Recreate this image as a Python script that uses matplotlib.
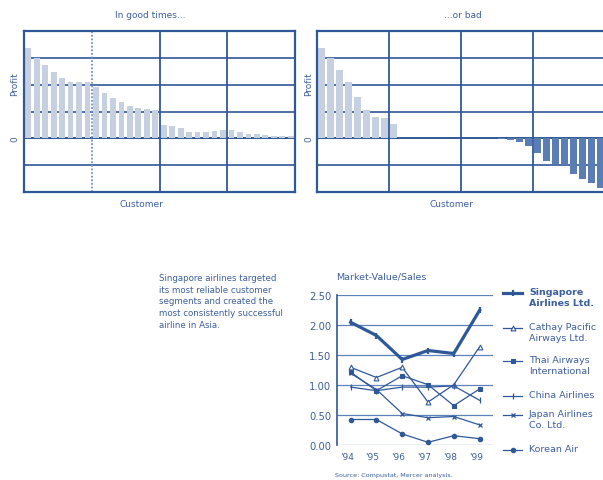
import matplotlib
matplotlib.use("Agg")
import matplotlib.pyplot as plt
from matplotlib.lines import Line2D

# ---------------- data ----------------
good_profit = [3.37, 3.0, 2.74, 2.48, 2.25, 2.09, 2.09, 2.09,
               1.9, 1.68, 1.52, 1.36, 1.2, 1.12, 1.1, 1.05,
               0.48, 0.45, 0.37, 0.24, 0.24, 0.24, 0.27, 0.3,
               0.31, 0.25, 0.18, 0.18, 0.11, 0.1, 0.09, 0.09]
bad_profit = [3.37, 3.0, 2.53, 2.1, 1.53, 1.05, 0.79, 0.74, 0.54,
              0.03, 0.03, 0.03, 0.03, 0.03, 0.03, 0.03, 0.03, 0.03, 0.03, 0.03,
              -0.03, -0.05, -0.15, -0.27, -0.54, -0.85, -0.95, -0.98,
              -1.32, -1.52, -1.67, -1.84]

years = ["'94", "'95", "'96", "'97", "'98", "'99"]
airlines = ["Singapore\nAirlines Ltd.", "Cathay Pacific\nAirways Ltd.",
            "Thai Airways\nInternational", "China Airlines",
            "Japan Airlines\nCo. Ltd.", "Korean Air"]
singapore = [2.04, 1.82, 1.42, 1.57, 1.52, 2.24]
cathay = [1.29, 1.12, 1.29, 0.71, 1.00, 1.63]
thai = [1.21, 0.90, 1.15, 1.00, 0.65, 0.93]
china = [0.96, 0.90, 0.96, 0.96, 0.98, 0.74]
japan = [1.19, 0.92, 0.52, 0.45, 0.47, 0.33]
korean = [0.42, 0.42, 0.18, 0.04, 0.15, 0.10]
series = [singapore, cathay, thai, china, japan, korean]
yticks_bottom = [0.0, 0.5, 1.0, 1.5, 2.0, 2.5]

# ---------------- style ----------------
W, H = 603, 481
TXT = "#3d5f9c"
GRID = "#2f5898"
LIGHT = "#c6d0e0"
DARK = "#5a7db5"
FONT = "DejaVu Sans"
plt.rcParams["font.family"] = [FONT]

fig = plt.figure(figsize=(W / 100, H / 100), dpi=100)
fig.patch.set_facecolor("white")


def fx(x):
    return x / W


def fy(y):
    return 1 - y / H


def rect(x0, y0, x1, y1):
    return [fx(x0), fy(y1), fx(x1) - fx(x0), fy(y0) - fy(y1)]


def profit_panel(px0, px1, values, dotted_first):
    ax = fig.add_axes(rect(px0, 32, px1, 193))
    n = len(values)
    ax.set_xlim(0, n)
    ax.set_ylim(-2, 4)
    for yv in [-1, 0, 1, 2, 3]:
        ax.axhline(yv, color=GRID, lw=1.4 if yv == 0 else 1.2, zorder=1)
    for i, xv in enumerate([n / 4, n / 2, 3 * n / 4]):
        if i == 0 and dotted_first:
            ax.axvline(xv, color="#6f8fc2", lw=1.3, ls=(0, (1, 1)), zorder=1)
        else:
            ax.axvline(xv, color=GRID, lw=1.3, zorder=1)
    xs = [i + 0.5 for i in range(n)]
    cols = [LIGHT if v >= 0 else DARK for v in values]
    ax.bar(xs, values, width=0.68, color=cols, zorder=2)
    ax.set_xticks([])
    ax.set_yticks([])
    for s in ax.spines.values():
        s.set_color(GRID)
        s.set_linewidth(1.6)
        s.set_zorder(5)
    return ax


profit_panel(24, 295, good_profit, True)
profit_panel(317, 605, bad_profit, False)

fs = 6.5
fig.text(fx(150), fy(15), "In good times...", color=TXT, fontsize=fs, ha="center", va="center")
fig.text(fx(463), fy(15), "...or bad", color=TXT, fontsize=fs, ha="center", va="center")
fig.text(fx(141), fy(205), "Customer", color=TXT, fontsize=fs, ha="center", va="center")
fig.text(fx(451), fy(205), "Customer", color=TXT, fontsize=fs, ha="center", va="center")
for xoff in [15, 309]:
    fig.text(fx(xoff), fy(84), "Profit", color=TXT, fontsize=fs, ha="center", va="center", rotation=90)
    fig.text(fx(xoff), fy(139), "0", color=TXT, fontsize=fs, ha="center", va="center", rotation=90)

# ---------------- paragraph ----------------
para = ("Singapore airlines targeted\nits most reliable customer\nsegments and created the\n"
        "most consistently successful\nairline in Asia.")
fig.text(fx(159), fy(274), para, color=TXT, fontsize=6.2, ha="left", va="top", linespacing=1.38)

# ---------------- line chart ----------------
ax = fig.add_axes(rect(336.7, 295.7, 493, 445.7))
ax.set_ylim(0, 2.5)
ax.set_xlim(-0.54, 5.52)
for yv in yticks_bottom:
    ax.axhline(yv, color="#5f82bb", lw=0.9, zorder=1)
xs = list(range(len(years)))
styles = [
    dict(lw=2.3, marker="|", ms=5, mew=1.6),
    dict(lw=0.9, marker="^", ms=3.5, mew=0.8, mfc="white"),
    dict(lw=0.9, marker="s", ms=2.8, mew=0.8),
    dict(lw=0.9, marker="|", ms=4, mew=0.9),
    dict(lw=0.9, marker="x", ms=3.5, mew=0.9),
    dict(lw=0.9, marker="o", ms=3.2, mew=0.8),
]
for vals, st in zip(series, styles):
    ax.plot(xs, vals, color=GRID, zorder=3, **st)
ax.set_yticks(yticks_bottom)
ax.set_yticklabels([f"{v:.2f}" for v in yticks_bottom], color=TXT, fontsize=7.2)
ax.set_xticks([x - 0.15 for x in xs])
ax.set_xticklabels(years, color=TXT, fontsize=6.5)
ax.tick_params(axis="both", length=0)
ax.tick_params(axis="y", pad=4)
ax.tick_params(axis="x", pad=5)
for k in ["top", "right", "bottom"]:
    ax.spines[k].set_visible(False)
ax.spines["left"].set_color(GRID)
ax.spines["left"].set_linewidth(1.2)

fig.text(fx(336), fy(277), "Market-Value/Sales", color=TXT, fontsize=6.8, ha="left", va="center")
fig.text(fx(335), fy(476), "Source: Compustat, Mercer analysis.", color=TXT, fontsize=4.6,
         ha="left", va="center")

# ---------------- legend (manual key) ----------------
leg_y = [294, 329, 362, 397, 416, 451]
for name, st, yy in zip(airlines, styles, leg_y):
    fig.add_artist(Line2D([fx(503), fx(512.5), fx(522)], [fy(yy)] * 3, color=GRID,
                          markevery=[1], **st))
    fig.text(fx(529), fy(yy - 5.8), name, color=TXT, fontsize=6.8, ha="left", va="top",
             linespacing=1.3, fontweight="bold" if name.startswith("Singapore") else "normal")

fig.savefig("out.png", dpi=100)
